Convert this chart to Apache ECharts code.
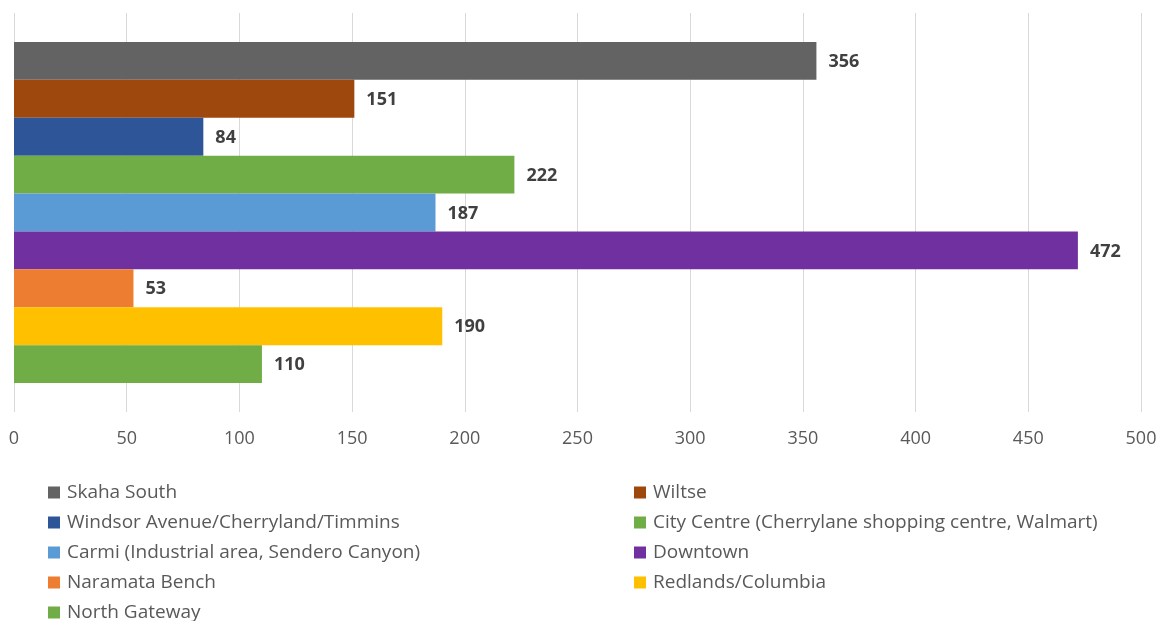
<!DOCTYPE html>
<html><head><meta charset="utf-8">
<script src="https://cdn.jsdelivr.net/npm/echarts@6/dist/echarts.min.js"></script>
<style>html,body{margin:0;padding:0;background:#fff}#c{width:1162px;height:621px}</style>
</head><body><div id="c"></div>
<script>
const names = ["Skaha South","Wiltse","Windsor Avenue/Cherryland/Timmins","City Centre (Cherrylane shopping centre, Walmart)","Carmi (Industrial area, Sendero Canyon)","Downtown","Naramata Bench","Redlands/Columbia","North Gateway"];
const values = [356,151,84,222,187,472,53,190,110];
const colors = ["#636363","#9e480e","#2e5597","#70ad47","#5b9bd5","#7030a0","#ed7d31","#ffc000","#70ad47"];
const xTicks = {min:0,max:500,interval:50};
const font = "'Open Sans', sans-serif";
const chart = echarts.init(document.getElementById('c'));
const series = names.map((n,i)=>({
  name:n, type:'bar', data:[values[i]], barGap:'0%', barCategoryGap:'14.5%',
  itemStyle:{color:colors[i]},
  label:{show:true,position:'right',distance:12,offset:[0,1],color:'#404040',fontWeight:'bold',fontSize:18,fontFamily:font},
  animation:false
}));
const legendCommon = {orient:'horizontal',width:10,itemWidth:12,itemHeight:12,itemGap:11,icon:'rect',padding:0,
  textStyle:{color:'#595959',fontSize:19,fontFamily:font,padding:[0,0,0,2]},selectedMode:false};
chart.setOption({
  animation:false,
  grid:{left:14,right:21,top:13,bottom:209,containLabel:false},
  xAxis:{type:'value',min:xTicks.min,max:xTicks.max,interval:xTicks.interval,
    axisLine:{show:false},axisTick:{show:false},
    splitLine:{lineStyle:{color:'#d9d9d9',width:1}},
    axisLabel:{color:'#595959',fontSize:18,fontFamily:font,margin:18}},
  yAxis:{type:'category',data:[''],inverse:true,axisLine:{show:false},axisTick:{show:false},axisLabel:{show:false}},
  legend:[
    Object.assign({left:48,top:483,data:names.filter((_,i)=>i%2===0)},legendCommon),
    Object.assign({left:634,top:483,data:names.filter((_,i)=>i%2===1)},legendCommon)
  ],
  series:series
});
</script></body></html>
